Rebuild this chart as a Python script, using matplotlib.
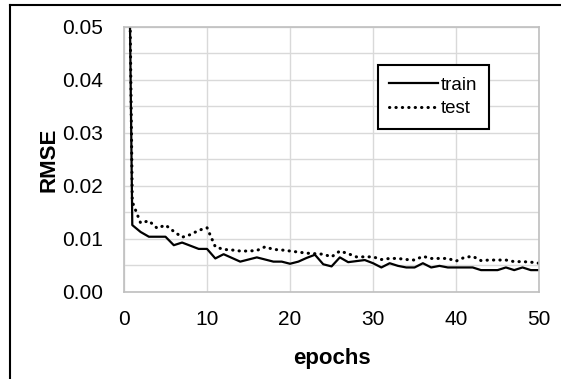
import numpy as np
import matplotlib.pyplot as plt
from matplotlib.lines import Line2D

plt.rcParams['font.family'] = ['Liberation Sans', 'DejaVu Sans']

# RMSE per epoch (epoch 0 is far above the visible range)
epochs = np.arange(0, 51)
train = [0.15, 0.0126, 0.0113, 0.0104, 0.0104, 0.0104, 0.0088, 0.0093, 0.0087, 0.0081,
         0.0081, 0.0063, 0.0071, 0.0064, 0.0057, 0.0061, 0.0065, 0.0061, 0.0057, 0.0057,
         0.0053, 0.0057, 0.0064, 0.0070, 0.0052, 0.0048, 0.0065, 0.0056, 0.0058, 0.0060,
         0.0054, 0.0046, 0.0054, 0.0049, 0.0046, 0.0046, 0.0054, 0.0046, 0.0049, 0.0046,
         0.0046, 0.0046, 0.0046, 0.0041, 0.0041, 0.0041, 0.0046, 0.0041, 0.0046, 0.0041,
         0.0041]
test = [0.15, 0.0170, 0.0130, 0.0134, 0.0120, 0.0126, 0.0114, 0.0103, 0.0108, 0.0116,
        0.0121, 0.0085, 0.0080, 0.0079, 0.0077, 0.0077, 0.0078, 0.0085, 0.0080, 0.0079,
        0.0077, 0.0075, 0.0073, 0.0072, 0.0071, 0.0066, 0.0077, 0.0072, 0.0066, 0.0066,
        0.0066, 0.0061, 0.0063, 0.0063, 0.0061, 0.0060, 0.0067, 0.0063, 0.0063, 0.0063,
        0.0058, 0.0065, 0.0067, 0.0059, 0.0060, 0.0060, 0.0060, 0.0057, 0.0057, 0.0056,
        0.0054]

fig = plt.figure(figsize=(5.61, 3.79), dpi=100)
ax = fig.add_axes([0.221, 0.230, 0.740, 0.699])

ax.plot(epochs, train, color='black', lw=1.6, label='train')
ax.plot(epochs, test, color='black', lw=2.2, linestyle=(0, (0.1, 2.0)),
        dash_capstyle='round', label='test')

ax.set_xlim(0, 50)
ax.set_ylim(0, 0.05)
ax.set_xticks(np.arange(0, 51, 10))
ax.set_yticks(np.arange(0, 0.051, 0.01))
ax.set_yticks(np.arange(0.005, 0.05, 0.01), minor=True)
ax.yaxis.set_major_formatter(plt.FormatStrFormatter('%.2f'))
ax.tick_params(which='both', length=0, labelsize=15)
ax.tick_params(axis='x', pad=13)
ax.tick_params(axis='y', pad=15)
ax.grid(True, which='both', color='#d9d9d9', lw=1)
ax.set_axisbelow(True)
for s in ax.spines.values():
    s.set_color('#bfbfbf')
    s.set_linewidth(1.2)

ax.set_xlabel('epochs', fontsize=16, fontweight='bold', labelpad=14)
ax.set_ylabel('RMSE', fontsize=16, fontweight='bold', labelpad=2)

leg = ax.legend(loc='upper left', bbox_to_anchor=(0.612, 0.855), borderaxespad=0,
                fontsize=13.5, handlelength=2.6, handletextpad=0.15, borderpad=0.6,
                labelspacing=0.35, fancybox=False, framealpha=1)
leg.get_frame().set_edgecolor('black')
leg.get_frame().set_linewidth(1.5)

# outer border (top and left edges)
fig.add_artist(Line2D([10 / 561, 1], [1 - 5 / 379, 1 - 5 / 379],
                      color='black', lw=1.5, transform=fig.transFigure))
fig.add_artist(Line2D([10 / 561, 10 / 561], [0, 1 - 5 / 379],
                      color='black', lw=1.5, transform=fig.transFigure))

fig.savefig('out.png', dpi=100)
